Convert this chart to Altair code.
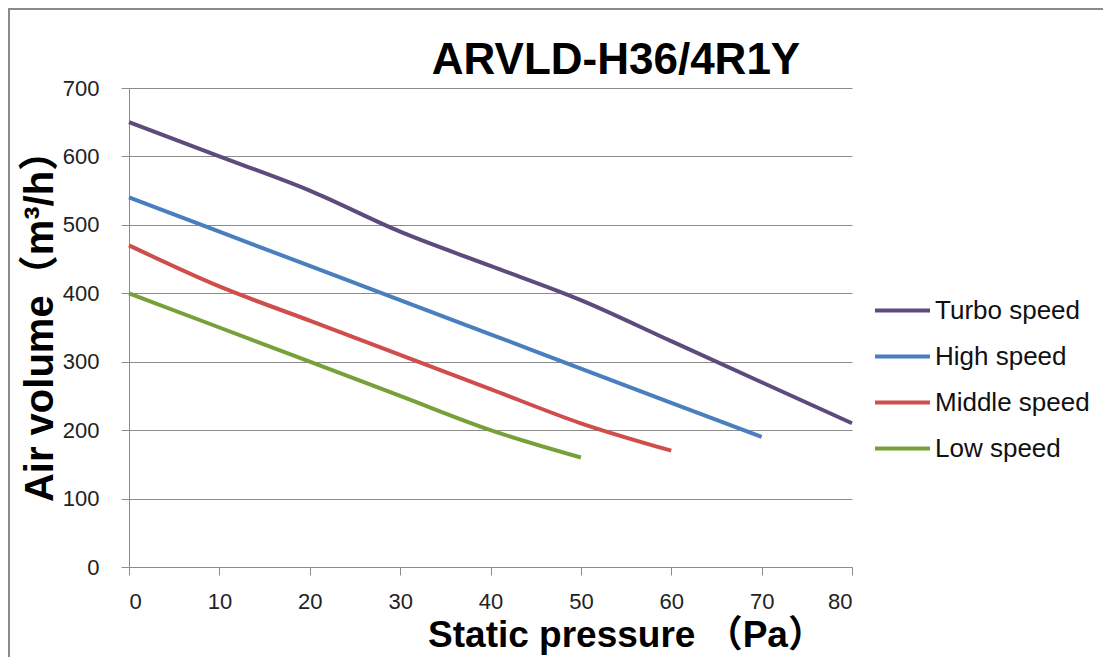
import altair as alt
import pandas as pd

pressure = [0, 10, 20, 30, 40, 50, 60, 70, 80]
turbo = [650, 600, 550, 490, 440, 390, 330, 270, 210]
high = [540, 490, 440, 390, 340, 290, 240, 190]
middle = [470, 410, 360, 310, 260, 210, 170]
low = [400, 350, 300, 250, 200, 160]

series_names = ["Turbo speed", "High speed", "Middle speed", "Low speed"]
series_values = [turbo, high, middle, low]
series_colors = ["#5E4B7E", "#4A7EBF", "#CF4E4C", "#78A03A"]

rows = []
for name, vals in zip(series_names, series_values):
    for p, v in zip(pressure, vals):
        rows.append({"Static pressure": p, "Air volume": v, "Series": name})
df = pd.DataFrame(rows)

FONT = "Liberation Sans, Noto Sans CJK SC, sans-serif"

lines = alt.Chart(df).mark_line(strokeWidth=4, interpolate="monotone").encode(
    x=alt.X("Static pressure:Q",
            scale=alt.Scale(domain=[0, 80], nice=False, zero=False),
            axis=alt.Axis(values=pressure, title="Static pressure （Pa）",
                          grid=False, tickSize=8, labelPadding=16,
                          labelFontSize=22, labelFont=FONT, labelColor="#222222",
                          domainColor="#8c8c8c", tickColor="#8c8c8c",
                          titleFontSize=37, titleFont=FONT, titleFontWeight="bold",
                          titleColor="#000000", titleX=497, titleY=79,
                          titleAlign="center", titleBaseline="alphabetic")),
    y=alt.Y("Air volume:Q",
            scale=alt.Scale(domain=[0, 700], nice=False),
            axis=alt.Axis(values=[0, 100, 200, 300, 400, 500, 600, 700],
                          title="Air volume（m³/h）",
                          grid=True, gridColor="#8c8c8c", gridWidth=1,
                          tickSize=8, labelPadding=22,
                          labelFontSize=22, labelFont=FONT, labelColor="#222222",
                          domainColor="#8c8c8c", tickColor="#8c8c8c",
                          titleFontSize=40, titleFont=FONT, titleFontWeight="bold",
                          titleColor="#000000", titleX=-77, titleY=228,
                          titleAngle=-90, titleAlign="center",
                          titleBaseline="alphabetic")),
    color=alt.Color("Series:N",
                    scale=alt.Scale(domain=series_names, range=series_colors),
                    sort=series_names,
                    legend=alt.Legend(title=None, orient="none",
                                      legendX=744, legendY=193,
                                      symbolType="stroke", symbolSize=3025,
                                      symbolStrokeWidth=4, labelFontSize=26,
                                      labelFont=FONT, labelColor="#111111",
                                      labelOffset=3, rowPadding=3,
                                      labelLimit=300)),
)

title_df = pd.DataFrame({"t": ["ARVLD-H36/4R1Y"]})
title = alt.Chart(title_df).mark_text(
    font=FONT, fontSize=44, fontWeight="bold", color="#000000",
    align="center", baseline="alphabetic"
).encode(text="t:N", x=alt.value(487), y=alt.value(-14))

border_df = pd.DataFrame({"k": [0]})
border_left = alt.Chart(border_df).mark_rule(color="#8a8a8a", strokeWidth=2).encode(
    x=alt.value(-120), y=alt.value(-79), y2=alt.value(600))
border_top = alt.Chart(border_df).mark_rule(color="#8a8a8a", strokeWidth=2).encode(
    x=alt.value(-121), x2=alt.value(1000), y=alt.value(-79))

chart = alt.layer(lines, title, border_left, border_top).properties(
    width=723, height=479,
    autosize=alt.AutoSizeParams(type="none"),
    padding={"left": 121, "top": 80, "right": 251, "bottom": 90},
    background="white",
).configure_view(stroke=None)

chart.save("out.html", embed_options={"renderer": "svg", "actions": False})
